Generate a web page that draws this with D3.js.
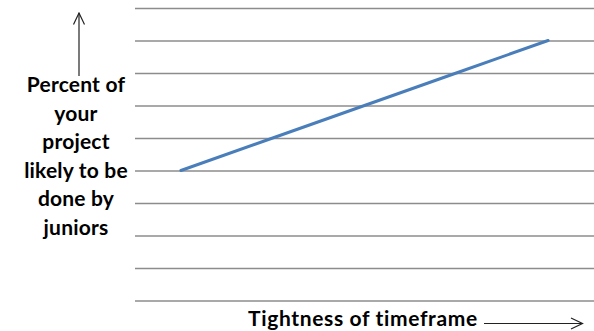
<!DOCTYPE html>
<html>
<head>
<meta charset="utf-8">
<script src="https://cdn.jsdelivr.net/npm/d3@7"></script>
<style>
  body { margin: 0; background: #fff; }
  text { font-family: Lato, "Open Sans", sans-serif; font-weight: 700; fill: #000; }
</style>
</head>
<body>
<div id="chart"></div>
<script>
// Tightness of timeframe vs. share of work done by juniors

const categories = ["1", "2", "3", "4", "5"];
const values = [4, 5, 6, 7, 8];
const gridValues = [0, 1, 2, 3, 4, 5, 6, 7, 8, 9];
const yLabelLines = ["Percent of", "your", "project", "likely to be", "done by", "juniors"];
const xLabel = "Tightness of timeframe";

const W = 594, H = 331;
const plot = {left: 135, right: 594, top: 8, bottom: 300.5};

const svg = d3.select("#chart")
    .append("svg")
    .attr("width", W)
    .attr("height", H);

const x = d3.scalePoint()
    .domain(categories)
    .range([plot.left, plot.right])
    .padding(0.5);

const y = d3.scaleLinear()
    .domain([0, 9])
    .range([plot.bottom, plot.top]);

// Horizontal gridlines
const grid = svg.append("g")
    .attr("transform", `translate(${plot.left},0)`)
    .call(d3.axisLeft(y)
        .tickValues(gridValues)
        .tickSize(-(plot.right - plot.left))
        .tickFormat(""));
grid.select(".domain").remove();
grid.selectAll(".tick line")
    .attr("stroke", "#8c8c8c")
    .attr("stroke-width", 1.3);

// Data line
const line = d3.line()
    .x((d, i) => x(categories[i]))
    .y(d => y(d));

svg.append("path")
    .datum(values)
    .attr("fill", "none")
    .attr("stroke", "#4a7ebb")
    .attr("stroke-width", 3)
    .attr("stroke-linecap", "round")
    .attr("d", line);

// Arrow markers
svg.append("defs").append("marker")
    .attr("id", "arrow")
    .attr("viewBox", "0 0 14 14")
    .attr("refX", 13)
    .attr("refY", 7)
    .attr("markerWidth", 14)
    .attr("markerHeight", 14)
    .attr("markerUnits", "userSpaceOnUse")
    .attr("orient", "auto")
    .append("path")
    .attr("d", "M1.5,1.5 L13,7 L1.5,12.5")
    .attr("fill", "none")
    .attr("stroke", "#222")
    .attr("stroke-width", 1.2);

// Y axis title with upward arrow
svg.append("line")
    .attr("x1", 79).attr("y1", 76)
    .attr("x2", 79).attr("y2", 13)
    .attr("stroke", "#222")
    .attr("stroke-width", 1.2)
    .attr("marker-end", "url(#arrow)");

const yLabel = svg.append("text")
    .attr("text-anchor", "middle")
    .style("font-size", "21px")
    .style("letter-spacing", "0.2px");
yLabel.selectAll("tspan")
    .data(yLabelLines)
    .enter()
    .append("tspan")
    .attr("x", 76)
    .attr("y", (d, i) => 92 + i * 28.6)
    .text(d => d);

// X axis title with right arrow
svg.append("text")
    .attr("x", 248)
    .attr("y", 326)
    .style("font-size", "21px")
    .style("letter-spacing", "0.65px")
    .text(xLabel);

svg.append("line")
    .attr("x1", 484).attr("y1", 323.5)
    .attr("x2", 582.5).attr("y2", 323.5)
    .attr("stroke", "#222")
    .attr("stroke-width", 1.2)
    .attr("marker-end", "url(#arrow)");
</script>
</body>
</html>
